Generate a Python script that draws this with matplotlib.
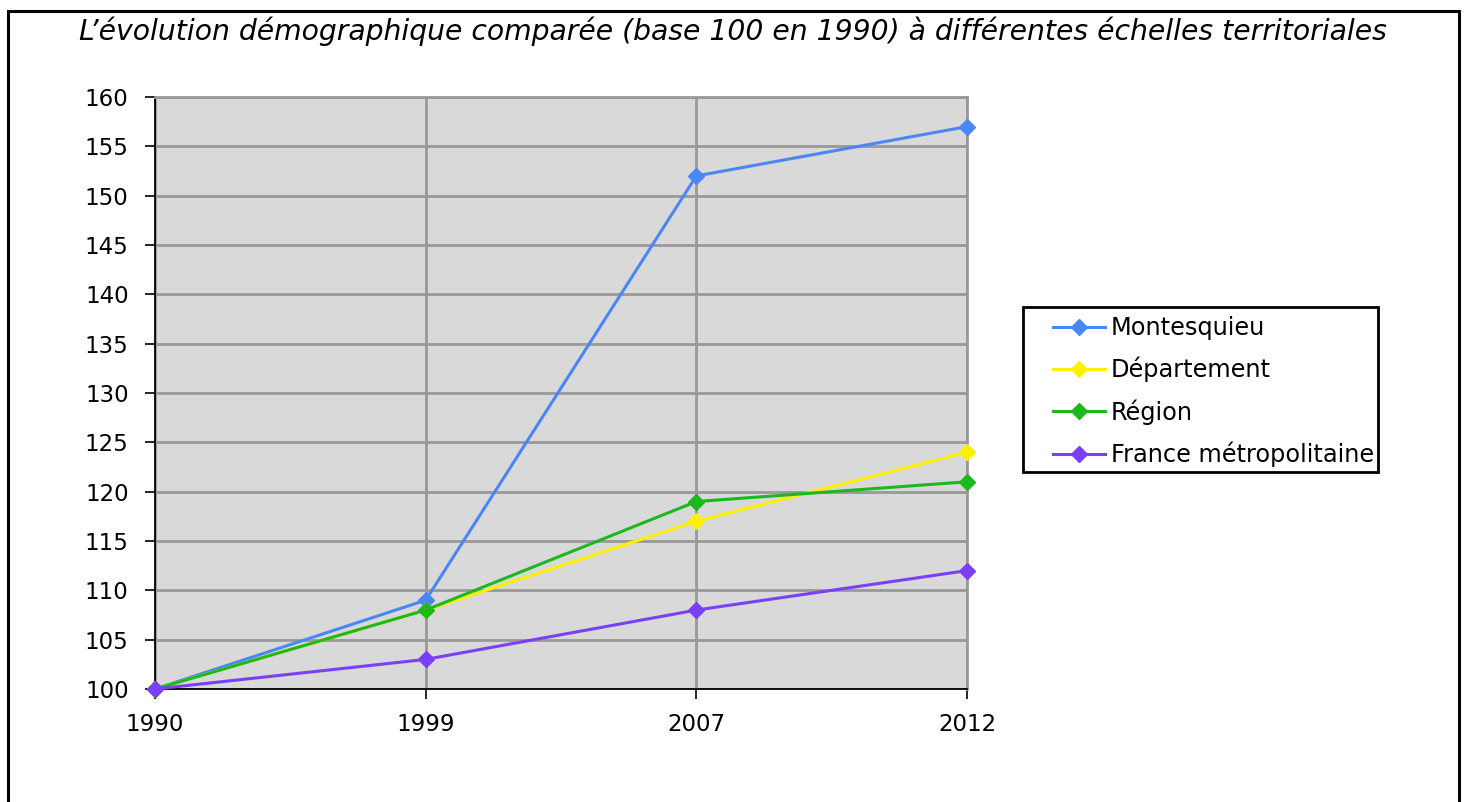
import matplotlib
matplotlib.use("Agg")
import matplotlib.pyplot as plt
from matplotlib.patches import Rectangle

years = ["1990", "1999", "2007", "2012"]
series_names = ["Montesquieu", "Département", "Région", "France métropolitaine"]
montesquieu = [100, 109, 152, 157]
departement = [100, 108, 117, 124]
region = [100, 108, 119, 121]
france = [100, 103, 108, 112]
colors = ["#4A86F5", "#FFF000", "#1DB81D", "#7B3FF5"]
title = "L’évolution démographique comparée (base 100 en 1990) à différentes échelles territoriales"

plt.rcParams['font.family'] = ['DejaVu Sans']

W, H = 1465, 802
fig = plt.figure(figsize=(W / 100, H / 100), dpi=100)
ax = fig.add_axes([155 / W, 1 - 689 / H, (967 - 155) / W, (689 - 97) / H])
ax.set_facecolor("#D9D9D9")

x = list(range(len(years)))
for vals, name, c in zip([montesquieu, departement, region, france], series_names, colors):
    ax.plot(x, vals, color=c, lw=2.2, marker="D", markersize=8.5, label=name, zorder=3,
            clip_on=False)

ax.set_xlim(0, len(years) - 1)
ax.set_ylim(100, 160)
ax.set_yticks(range(100, 161, 5))
ax.set_xticks(x)
ax.set_xticklabels(years)
ax.tick_params(axis="both", labelsize=16.5, colors="black", length=7, width=1.2)
ax.tick_params(axis="y", pad=12)
ax.tick_params(axis="x", pad=10)
ax.grid(True, color="#999999", lw=2)
ax.set_axisbelow(True)
for s in ["top", "right"]:
    ax.spines[s].set_color("#999999")
    ax.spines[s].set_linewidth(2)
for s in ["left", "bottom"]:
    ax.spines[s].set_color("black")
    ax.spines[s].set_linewidth(1.3)
    ax.spines[s].set_zorder(2.5)

leg = fig.legend(loc="upper left", bbox_to_anchor=(1053 / W, 1 - 316 / H),
                 fontsize=17.3, frameon=False, handlelength=2.16,
                 handletextpad=0.25, borderpad=0, labelspacing=0.7,
                 borderaxespad=0)
fig.patches.append(Rectangle((1023 / W, 1 - 472 / H), (1378 - 1023) / W, (472 - 307) / H,
                             transform=fig.transFigure, fill=False, edgecolor="black",
                             lw=2, zorder=5))

fig.text(733 / W, 1 - 31 / H, title, ha="center", va="center", fontsize=20.3, style="italic")

fig.patches.append(Rectangle((8 / W, -0.05), (1459 - 8) / W, 1.05 - 11 / H,
                             transform=fig.transFigure, fill=False, edgecolor="black",
                             lw=2.2, zorder=10))

fig.savefig("out.png", dpi=100)
